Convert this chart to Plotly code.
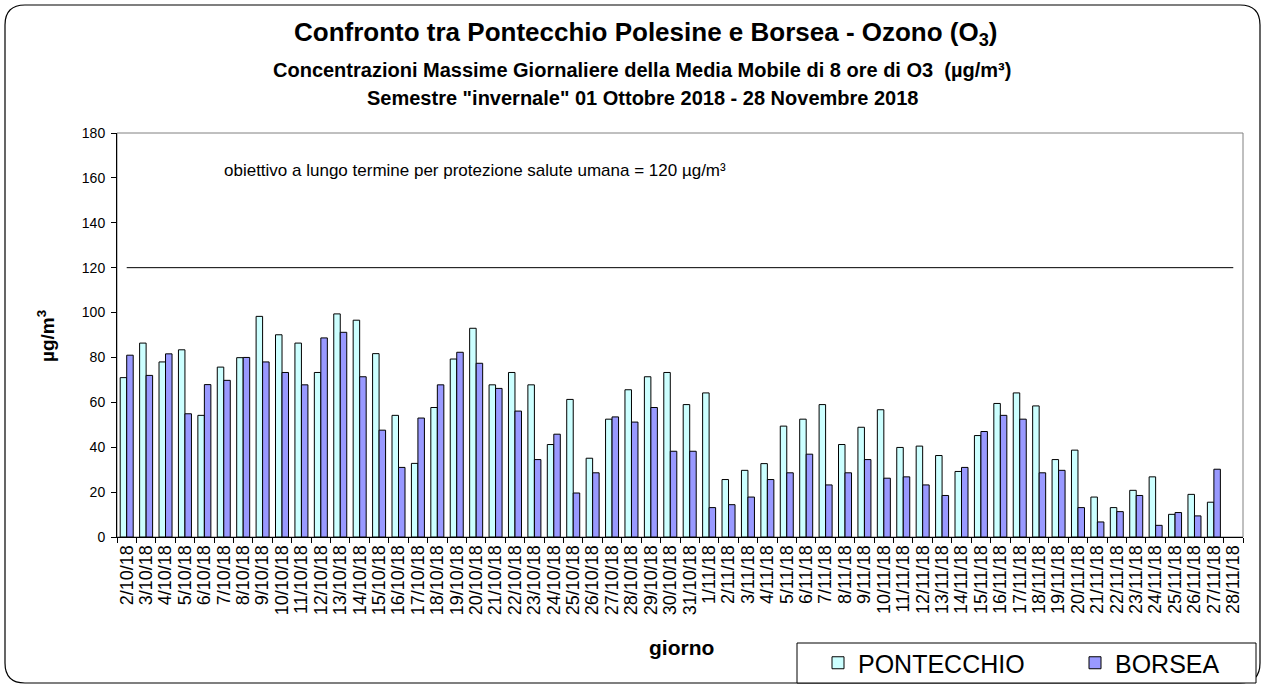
import plotly.graph_objects as go

# ---------------- data ----------------
categories = [f"{d}/10/18" for d in range(2, 32)] + [f"{d}/11/18" for d in range(1, 29)]

pontecchio = [71, 86.4, 78, 83.4, 54.2, 75.7, 79.9, 98.3, 90.1, 86.4,
              73.3, 99.4, 96.6, 81.7, 54.2, 32.8, 57.7, 79.3, 93, 67.8,
              73.3, 67.8, 41.2, 61.3, 35.1, 52.5, 65.6, 71.4, 73.3, 59,
              64.2, 25.6, 29.7, 32.7, 49.4, 52.5, 59, 41.2, 48.9, 56.7,
              39.9, 40.5, 36.3, 29.2, 45.2, 59.5, 64.2, 58.4, 34.5, 38.7,
              17.8, 13.1, 20.8, 26.8, 10.1, 19, 15.5, None]

borsea = [81, 72, 81.6, 54.9, 67.9, 69.8, 80, 78, 73.3, 67.8,
          88.7, 91.2, 71.4, 47.6, 31, 53, 67.8, 82.3, 77.4, 66.2,
          56.1, 34.5, 45.8, 19.6, 28.6, 53.5, 51.2, 57.7, 38.2, 38.2,
          13.1, 14.4, 17.8, 25.6, 28.6, 36.9, 23.2, 28.6, 34.5, 26.2,
          26.8, 23.2, 18.5, 31, 47, 54.2, 52.5, 28.6, 29.7, 13.1,
          6.7, 11.3, 18.5, 5.2, 10.9, 9.4, 30.2, None]

threshold = 120
y_ticks = [0, 20, 40, 60, 80, 100, 120, 140, 160, 180]

# ---------------- layout geometry (pixels) ----------------
W, H = 1265, 688
L, R, T, B = 117, 22, 133, 151
PW, PH = W - L - R, H - T - B


def xp(px):
    return (px - L) / PW


def yp(py):
    return (H - B - py) / PH


FONT = "Liberation Sans, Arial, sans-serif"

fig = go.Figure()
fig.add_trace(go.Bar(
    x=categories, y=pontecchio, name="PONTECCHIO",
    marker=dict(color="#CCFFFF", line=dict(color="#000000", width=1)),
))
fig.add_trace(go.Bar(
    x=categories, y=borsea, name="BORSEA",
    marker=dict(color="#9999FF", line=dict(color="#000000", width=1)),
))
fig.add_trace(go.Scatter(
    x=categories, y=[threshold] * len(categories), mode="lines",
    line=dict(color="#000000", width=1), showlegend=False, hoverinfo="skip",
))

# outer rounded frame
x0, x1, y0, y1 = xp(5), xp(1260), yp(5), yp(683)
rx, ry = 20 / PW, 20 / PH
path = (f"M {x0+rx},{y0} L {x1-rx},{y0} Q {x1},{y0} {x1},{y0-ry} "
        f"L {x1},{y1+ry} Q {x1},{y1} {x1-rx},{y1} "
        f"L {x0+rx},{y1} Q {x0},{y1} {x0},{y1+ry} "
        f"L {x0},{y0-ry} Q {x0},{y0} {x0+rx},{y0} Z")

shapes = [
    dict(type="path", xref="paper", yref="paper", path=path,
         line=dict(color="#000000", width=1.2), layer="below"),
    # plot area border
    dict(type="rect", xref="paper", yref="paper", x0=0, x1=1, y0=0, y1=1,
         line=dict(color="#808080", width=1), layer="below"),
    # legend box
    dict(type="rect", xref="paper", yref="paper",
         x0=xp(797), x1=xp(1256), y0=yp(643), y1=yp(683),
         line=dict(color="#000000", width=1), fillcolor="#FFFFFF", layer="below"),
]

annotations = [
    dict(text="<b>Confronto tra Pontecchio Polesine e Borsea - Ozono (O<sub>3</sub>)</b>",
         x=xp(646), y=yp(33), xref="paper", yref="paper", showarrow=False,
         xanchor="center", yanchor="middle", font=dict(size=26, color="#000", family=FONT)),
    dict(text="<b>Concentrazioni Massime Giornaliere della Media Mobile di 8 ore di O3  (µg/m³)</b>",
         x=xp(642), y=yp(70), xref="paper", yref="paper", showarrow=False,
         xanchor="center", yanchor="middle", font=dict(size=20, color="#000", family=FONT)),
    dict(text="<b>Semestre \"invernale\" 01 Ottobre 2018 - 28 Novembre 2018</b>",
         x=xp(642), y=yp(98), xref="paper", yref="paper", showarrow=False,
         xanchor="center", yanchor="middle", font=dict(size=20, color="#000", family=FONT)),
    dict(text="obiettivo a lungo termine per protezione salute umana = 120 µg/m³",
         x=xp(222), y=yp(170), xref="paper", yref="paper", showarrow=False,
         xanchor="left", yanchor="middle", font=dict(size=17, color="#000", family=FONT)),
    dict(text="<b>µg/m<sup>3</sup></b>", textangle=-90,
         x=xp(46), y=yp(336), xref="paper", yref="paper", showarrow=False,
         xanchor="center", yanchor="middle", font=dict(size=19, color="#000", family=FONT)),
    dict(text="<b>giorno</b>",
         x=xp(681), y=yp(647), xref="paper", yref="paper", showarrow=False,
         xanchor="center", yanchor="middle", font=dict(size=21, color="#000", family=FONT)),
]

fig.update_layout(
    width=W, height=H,
    margin=dict(l=L, r=R, t=T, b=B, autoexpand=False),
    paper_bgcolor="#FFFFFF", plot_bgcolor="#FFFFFF",
    barmode="group", bargap=0.33, bargroupgap=0.0,
    font=dict(family=FONT, color="#000000"),
    shapes=shapes, annotations=annotations,
    legend=dict(
        orientation="h", x=xp(818), y=yp(663), xanchor="left", yanchor="middle",
        borderwidth=0, bgcolor="rgba(0,0,0,0)",
        font=dict(size=25, color="#000", family=FONT),
        entrywidth=212, entrywidthmode="pixels", itemwidth=30,
    ),
    xaxis=dict(
        type="category", tickmode="array", tickvals=categories, ticktext=categories,
        tickangle=-90, tickfont=dict(size=18, color="#000"),
        showline=True, linecolor="#000000", linewidth=1,
        ticks="outside", ticklen=5, tickcolor="#000000", tickson="boundaries",
        showgrid=False, range=[-0.5, len(categories) - 0.5],
    ),
    yaxis=dict(
        range=[0, 180], tickvals=y_ticks, tickfont=dict(size=14, color="#000"),
        showline=True, linecolor="#000000", linewidth=1,
        ticks="outside", ticklen=5, tickcolor="#000000", ticklabelstandoff=3,
        showgrid=False, zeroline=False,
    ),
)

fig.write_html("out.html", config={"displayModeBar": False},
               post_script="document.body.style.margin='0';")
